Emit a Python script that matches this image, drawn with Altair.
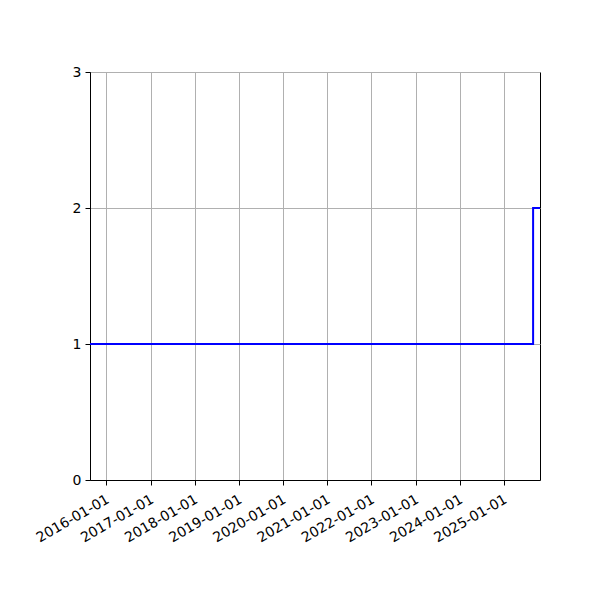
import altair as alt
import pandas as pd

dates = ["2015-08-19", "2025-08-29", "2025-10-25"]
values = [1, 2, 2]
tick_years = list(range(2016, 2026))

df = pd.DataFrame({"date": dates, "value": values})

x_ticks = [alt.DateTime(year=y, month=1, date=1, utc=True) for y in tick_years]

chart = alt.Chart(df).mark_line(
    interpolate="step-after", color="#0000ff", strokeWidth=2
).encode(
    x=alt.X(
        "date:T",
        scale=alt.Scale(
            type="utc",
            domain=[
                alt.DateTime(year=2015, month=8, date=19, utc=True),
                alt.DateTime(year=2025, month=10, date=25, utc=True),
            ],
        ),
        axis=alt.Axis(
            values=x_ticks,
            format="%Y-%m-%d",
            labelAngle=-30,
            labelAlign="right",
            labelBaseline="top",
            labelOverlap=False,
            labelBound=False,
            labelPadding=7,
            labelOffset=-2,
            title=None,
            grid=True,
        ),
    ),
    y=alt.Y(
        "value:Q",
        scale=alt.Scale(domain=[0, 3], nice=False, zero=False),
        axis=alt.Axis(values=[0, 1, 2, 3], format="d", title=None, grid=True),
    ),
).properties(
    width=450,
    height=408,
    autosize=alt.AutoSizeParams(type="none"),
    padding={"left": 82, "top": 64, "right": 52, "bottom": 112},
).configure_view(
    stroke="black", strokeWidth=1
).configure_axis(
    domainColor="black",
    domainWidth=1,
    tickColor="black",
    tickSize=5,
    tickWidth=1,
    labelColor="black",
    labelFont="DejaVu Sans",
    labelFontSize=14,
    labelPadding=4,
    gridColor="#b0b0b0",
    gridWidth=1,
    gridOpacity=1,
)

chart.save("out.html", embed_options={"renderer": "svg", "actions": False})
